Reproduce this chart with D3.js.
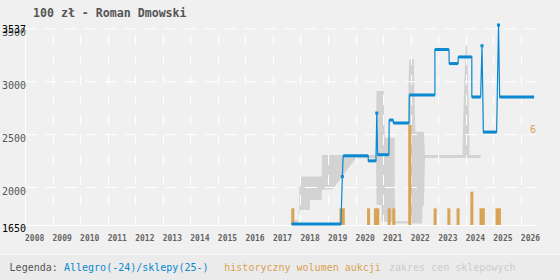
<!DOCTYPE html>
<html>
<head>
<meta charset="utf-8">
<script src="https://cdn.jsdelivr.net/npm/d3@7/dist/d3.min.js"></script>
<style>
  body { margin: 0; background: #f0f0f0; }
  svg { display: block; }
  text { font-family: "DejaVu Sans Mono", monospace; }
</style>
</head>
<body>
<svg id="chart"></svg>
<script>
// year ticks on the x axis
const years = d3.range(2008, 2027);
// price gridlines + the min / max labels
const priceTicks = [2000, 2500, 3000, 3500];
const priceMin = 1650;
const priceMax = 3537;
const volumeMax = 6;

// Allegro / shop price: [from, to, price] (from == to -> single point)
const allegroRuns = [
  [2017.68, 2019.47, 1655],
  [2019.52, 2019.52, 2103],
  [2019.55, 2020.46, 2300],
  [2020.46, 2020.74, 2252],
  [2020.77, 2020.77, 2704],
  [2020.80, 2021.21, 2310],
  [2021.22, 2021.37, 2638],
  [2021.37, 2021.94, 2610],
  [2021.95, 2022.88, 2875],
  [2022.88, 2023.39, 3305],
  [2023.40, 2023.72, 3172],
  [2023.73, 2024.22, 3235],
  [2024.22, 2024.54, 2856],
  [2024.59, 2024.59, 3341],
  [2024.64, 2025.12, 2524],
  [2025.19, 2025.19, 3537],
  [2025.23, 2026.48, 2855]
];

// shop price range: [time, low, high]
const shopRange = [
  [2017.68, 1640, 1693], [2017.90, 1640, 1693],
  [2017.91, 1756, 1778], [2017.95, 1756, 1778],
  [2017.96, 1787, 2007], [2017.99, 1787, 2007],
  [2018.00, 1787, 2104], [2018.34, 1787, 2104],
  [2018.35, 1882, 2104], [2018.77, 1882, 2104],
  [2018.78, 1976, 2307], [2019.18, 1986, 2307],
  [2020.01, 2276, 2307], [2020.74, 2276, 2307],
  [2020.76, 1834, 2913], [2020.94, 1834, 2913],
  [2020.95, 1676, 2913], [2021.02, 1676, 2913],
  [2021.03, 1676, 2767], [2021.06, 1676, 2470],
  [2021.42, 1676, 2470], [2021.43, 1660, 1680],
  [2021.90, 1660, 1680], [2021.92, 1660, 2988],
  [2021.94, 1660, 3143], [2021.96, 1660, 3215],
  [2022.12, 1660, 3215], [2022.13, 1660, 2988],
  [2022.17, 1660, 2528], [2022.42, 1660, 2528],
  [2022.43, 1818, 2528], [2022.48, 1835, 2528],
  [2022.52, 2280, 2307], [2023.88, 2280, 2307],
  [2023.90, 2280, 2575], [2023.93, 2280, 2860],
  [2023.97, 2280, 3143], [2024.00, 2280, 3338],
  [2024.05, 2280, 3338], [2024.07, 2280, 3143],
  [2024.10, 2280, 2860], [2024.12, 2280, 2575],
  [2024.14, 2280, 2307], [2024.54, 2280, 2307]
];

// auction volume per month: [month start, count]
const volumeMonths = [
  [2017.667, 1], [2019.417, 1], [2019.5, 1], [2020.417, 1],
  [2020.667, 1], [2020.75, 1], [2021.167, 1], [2021.333, 1],
  [2021.917, 6], [2022.833, 1], [2023.333, 1], [2023.667, 1],
  [2024.167, 2], [2024.5, 1], [2024.583, 1], [2025.083, 1],
  [2025.167, 1]
];

const width = 560, height = 280;
const blue = '#0a88d0', orange = '#d8a352', band = '#d3d3d3';

const svg = d3.select('#chart').attr('width', width).attr('height', height);

const x = d3.scaleLinear().domain([2008, 2026.55]).range([25, 536]);
const y = d3.scaleLinear().domain([priceMin, priceMax]).range([224.5, 25]);
const yVol = d3.scaleLinear().domain([0, volumeMax]).range([225, 125]);

svg.append('rect').attr('width', width).attr('height', height).attr('fill', '#f0f0f0');
svg.append('rect').attr('y', 254).attr('width', width).attr('height', 1).attr('fill', '#f8f8f8');
svg.append('rect').attr('y', 255).attr('width', width).attr('height', 25).attr('fill', '#ebebeb');

// title
svg.append('text')
  .attr('x', 33).attr('y', 17)
  .attr('font-size', 11.6).attr('font-weight', 'bold')
  .attr('fill', '#555')
  .text('100 zł - Roman Dmowski');

// shop price range band
svg.append('path')
  .datum(shopRange)
  .attr('fill', band)
  .attr('d', d3.area()
    .x(d => x(d[0]))
    .y0(d => y(d[1]))
    .y1(d => y(d[2])));

// grid
const grid = svg.append('g').attr('class', 'grid');
grid.selectAll('line.h')
  .data(priceTicks)
  .enter().append('line')
  .attr('class', 'h')
  .attr('x1', x.range()[0]).attr('x2', x.range()[1])
  .attr('y1', d => y(d)).attr('y2', d => y(d))
  .attr('stroke', '#fff').attr('stroke-width', 1)
  .attr('stroke-dasharray', '12,8');
grid.selectAll('line.v')
  .data(years.slice(1))
  .enter().append('line')
  .attr('class', 'v')
  .attr('x1', d => Math.round(x(d)) + 0.5).attr('x2', d => Math.round(x(d)) + 0.5)
  .attr('y1', 225).attr('y2', 25)
  .attr('stroke', '#fff').attr('stroke-width', 1)
  .attr('stroke-dasharray', '10,10');
grid.append('line')
  .attr('x1', 25.5).attr('x2', 25.5).attr('y1', 25).attr('y2', 225.5)
  .attr('stroke', '#fff');
grid.append('line')
  .attr('x1', 25).attr('x2', 536).attr('y1', 225.5).attr('y2', 225.5)
  .attr('stroke', '#fff');

// y labels
svg.append('g')
  .selectAll('text')
  .data([priceMin, ...priceTicks, priceMax])
  .enter().append('text')
  .attr('x', 26)
  .attr('y', d => y(d) + 7.5)
  .attr('text-anchor', 'end')
  .attr('font-size', 10)
  .attr('fill', d => (d === priceMin || d === priceMax) ? '#000' : '#555')
  .text(d => d);

// x labels
svg.append('g')
  .selectAll('text')
  .data(years)
  .enter().append('text')
  .attr('x', d => x(d))
  .attr('y', 241)
  .attr('font-size', 8).attr('font-weight', 'bold')
  .attr('fill', '#666')
  .text(d => d);

// volume bars
svg.append('g')
  .selectAll('rect')
  .data(volumeMonths)
  .enter().append('rect')
  .attr('x', d => x(d[0]))
  .attr('y', d => yVol(d[1]))
  .attr('width', 3)
  .attr('height', d => yVol(0) - yVol(d[1]))
  .attr('fill', orange);

svg.append('text')
  .attr('x', 530).attr('y', 133)
  .attr('font-size', 10)
  .attr('fill', orange)
  .text(volumeMax);

// allegro price line
const linePoints = [];
allegroRuns.forEach(r => {
  linePoints.push([r[0], r[2]]);
  if (r[1] > r[0]) linePoints.push([r[1], r[2]]);
});
svg.append('path')
  .datum(linePoints)
  .attr('fill', 'none')
  .attr('stroke', blue)
  .attr('stroke-width', 1.2)
  .attr('d', d3.line().x(d => x(d[0])).y(d => y(d[1])));

svg.append('g')
  .selectAll('line')
  .data(allegroRuns.filter(r => r[1] > r[0]))
  .enter().append('line')
  .attr('x1', d => x(d[0])).attr('x2', d => x(d[1]))
  .attr('y1', d => y(d[2])).attr('y2', d => y(d[2]))
  .attr('stroke', blue)
  .attr('stroke-width', 3);

svg.append('g')
  .selectAll('rect')
  .data(allegroRuns.filter(r => r[1] === r[0]))
  .enter().append('rect')
  .attr('x', d => x(d[0]) - 1.5)
  .attr('y', d => y(d[2]) - 1.5)
  .attr('width', 3).attr('height', 3)
  .attr('fill', blue);

// legend
const legend = svg.append('text')
  .attr('y', 271)
  .attr('font-size', 10);
legend.append('tspan').attr('x', 9.6).attr('fill', '#555').text('Legenda:');
legend.append('tspan').attr('x', 64).attr('fill', blue).text('Allegro(-24)/sklepy(25-)');
legend.append('tspan').attr('x', 224.3).attr('fill', orange).text('historyczny wolumen aukcji');
legend.append('tspan').attr('x', 389).attr('fill', '#ccc').text('zakres cen sklepowych');
</script>
</body>
</html>
